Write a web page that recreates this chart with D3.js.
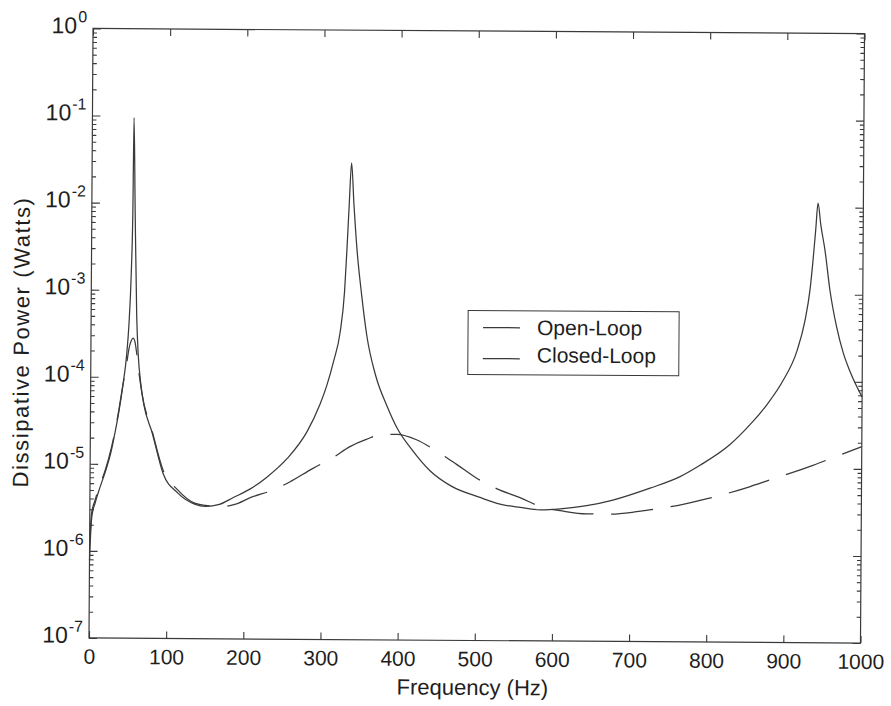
<!DOCTYPE html>
<html>
<head>
<meta charset="utf-8">
<script src="https://cdn.jsdelivr.net/npm/d3@7"></script>
<style>
  body { margin: 0; background: #fff; }
  text { font-family: "Liberation Sans", Arial, sans-serif; fill: #1e1e1e; }
</style>
</head>
<body>
<script>
// open-loop response (Hz, Watts)
const openFreq = [0, 1, 2.7, 6.6, 12.4, 19.3, 27.2, 32, 36.8, 41.6, 46.4, 49.1, 51.7, 53.2, 53.9,
  56.2, 59.1, 61.4, 64.6, 68.8, 80.1, 94.5, 113.7, 135.8, 149.9, 167.9, 185.9, 207.8, 228.8,
  255.7, 280.5, 297.3, 306.1, 314.9, 322.7, 328.3, 331, 333.6, 336.3, 339.7, 344.1, 350.4,
  357.8, 369.1, 384.5, 397.7, 417.9, 440.2, 468.3, 505.5, 531.6, 557.7, 583.7, 609.8, 643.9,
  677.8, 725.9, 764.8, 790.5, 829.2, 855.5, 876.8, 897.4, 915.2, 925.3, 931.5, 935.1, 938.5,
  941.2, 945, 950.7, 957.4, 966.5, 974.8, 984, 1000];
const openPower = [7.8e-7, 1.4e-6, 2.5e-6, 3.5e-6, 5.2e-6, 7.9e-6, 1.4e-5, 2.3e-5, 4.0e-5, 7.8e-5,
  1.8e-4, 4.0e-4, 1.6e-3, 7.9e-3, 9.5e-2,
  7.9e-3, 5.0e-4, 1.8e-4, 8.9e-5, 5.0e-5, 2.3e-5, 7.9e-6, 4.7e-6, 3.5e-6, 3.3e-6, 3.5e-6,
  4.2e-6, 5.3e-6, 7.2e-6,
  1.2e-5, 2.4e-5, 5.0e-5, 8.3e-5, 1.6e-4, 3.3e-4, 1.0e-3, 3.0e-3, 1.0e-2, 3.0e-2, 1.0e-2,
  3.0e-3, 9.2e-4,
  3.0e-4, 1.1e-4, 4.8e-5, 2.7e-5, 1.5e-5, 8.9e-6, 5.9e-6, 4.4e-6, 3.7e-6, 3.4e-6, 3.2e-6,
  3.3e-6, 3.6e-6,
  4.2e-6, 5.8e-6, 7.9e-6, 1.07e-5, 1.86e-5, 3.2e-5, 5.4e-5, 1.02e-4, 2.24e-4, 5.0e-4, 1.12e-3,
  2.4e-3, 5.6e-3,
  1.12e-2, 6.3e-3, 3.2e-3, 1.12e-3, 4.2e-4, 2.2e-4, 1.32e-4, 6.7e-5];

// closed-loop response (Hz, Watts)
const closedFreq = [0, 1, 2.6, 6.6, 12.4, 19.3, 27.1, 32, 36.8, 41.6, 46.4, 49.3, 52.2, 54.7, 57.2,
  59.3, 62.6, 66.8, 80.1, 94.5, 113.7, 135.8, 149.9, 167.9, 187.9, 207.8, 235.8, 258.8, 287.7,
  314.7, 336.6, 357.7, 379.7, 397.6, 422.8, 448, 475, 501.2, 528.4, 557.5, 583.7, 613.8,
  643.8, 673.9, 708.9, 738.9, 768.8, 798.8, 825.8, 854.8, 883.9, 910.8, 936.8, 963.7, 1000];
const closedPower = [1.0e-6, 1.8e-6, 2.8e-6, 3.8e-6, 5.6e-6, 8.3e-6, 1.5e-5, 2.4e-5, 4.2e-5, 7.9e-5,
  1.4e-4, 2.1e-4, 2.6e-4, 2.8e-4, 2.5e-4,
  1.9e-4, 1.1e-4, 6.3e-5, 2.4e-5, 8.6e-6, 5.1e-6, 3.6e-6, 3.4e-6, 3.3e-6, 3.5e-6, 4.2e-6,
  5.1e-6, 6.4e-6, 9.1e-6,
  1.23e-5, 1.65e-5, 2.0e-5, 2.3e-5, 2.3e-5, 2.0e-5, 1.5e-5, 1.05e-5, 7.3e-6, 5.5e-6, 4.4e-6,
  3.5e-6, 3.1e-6,
  2.9e-6, 2.9e-6, 3.1e-6, 3.4e-6, 3.8e-6, 4.4e-6, 5.1e-6, 6.1e-6, 7.5e-6, 9.0e-6, 1.09e-5,
  1.35e-5, 1.8e-5];

const xTicks = [0, 100, 200, 300, 400, 500, 600, 700, 800, 900, 1000];
const yExponents = [0, -1, -2, -3, -4, -5, -6, -7];
const seriesNames = ['Open-Loop', 'Closed-Loop'];

const width = 891, height = 706;
const plotLeft = 91, plotRight = 862.5, plotTop = 31, plotBottom = 640.5;
const ink = '#3a3a3a';

let svg = d3.select('body').append('svg')
  .attr('width', width)
  .attr('height', height);

svg.append('rect').attr('width', width).attr('height', height).attr('fill', '#fff');

// the scanned page sits slightly tilted
let g = svg.append('g')
  .attr('transform', `rotate(0.38, ${(plotLeft + plotRight) / 2}, ${(plotTop + plotBottom) / 2})`);

let x = d3.scaleLinear().domain([0, 1000]).range([plotLeft, plotRight]);
let y = d3.scaleLog().domain([1e-7, 1]).range([plotBottom, plotTop]);

let yMajor = yExponents.map(e => Math.pow(10, e));
let yMinor = y.ticks().filter(v => !yMajor.some(m => Math.abs(v / m - 1) < 1e-6));

function styleAxis(sel) {
  sel.select('.domain').remove();
  sel.attr('font-family', null).attr('font-size', null);
  sel.selectAll('line').attr('stroke', ink).attr('stroke-width', 1.1);
}

// x axes, ticks inside
g.append('g')
  .attr('transform', `translate(0,${plotBottom})`)
  .call(d3.axisBottom(x).tickValues(xTicks).tickSize(-7).tickPadding(11).tickFormat(d => d))
  .call(styleAxis)
  .selectAll('text').style('font-size', '21px');

g.append('g')
  .attr('transform', `translate(0,${plotTop})`)
  .call(d3.axisTop(x).tickValues(xTicks).tickSize(-7).tickFormat(''))
  .call(styleAxis);

// y axes, log ticks inside on both sides
g.append('g').attr('transform', `translate(${plotLeft},0)`)
  .call(d3.axisLeft(y).tickValues(yMinor).tickSize(-4).tickFormat(''))
  .call(styleAxis);
g.append('g').attr('transform', `translate(${plotLeft},0)`)
  .call(d3.axisLeft(y).tickValues(yMajor).tickSize(-8).tickFormat(''))
  .call(styleAxis);
g.append('g').attr('transform', `translate(${plotRight},0)`)
  .call(d3.axisRight(y).tickValues(yMinor).tickSize(-4).tickFormat(''))
  .call(styleAxis);
g.append('g').attr('transform', `translate(${plotRight},0)`)
  .call(d3.axisRight(y).tickValues(yMajor).tickSize(-8).tickFormat(''))
  .call(styleAxis);

// power-of-ten labels
let yLabels = g.append('g').selectAll('text')
  .data(yExponents)
  .join('text')
    .attr('x', plotLeft - 6)
    .attr('y', e => y(Math.pow(10, e)) + 5)
    .attr('text-anchor', 'end');
yLabels.append('tspan').style('font-size', '23px').text('10');
yLabels.append('tspan').style('font-size', '16px').attr('dx', 1).attr('dy', -11).text(e => String(e));

// frame
g.append('rect')
  .attr('x', plotLeft).attr('y', plotTop)
  .attr('width', plotRight - plotLeft).attr('height', plotBottom - plotTop)
  .attr('fill', 'none').attr('stroke', ink).attr('stroke-width', 1.2);

// curves
let line = d3.line().curve(d3.curveMonotoneX);

let openPts = openFreq.map((f, i) => [x(f), y(openPower[i])]);
let closedPts = closedFreq.map((f, i) => [x(f), y(closedPower[i])]);

g.append('path')
  .attr('d', line(openPts))
  .attr('fill', 'none')
  .attr('stroke', ink)
  .attr('stroke-width', 1.25);

let closedPath = g.append('path')
  .attr('d', line(closedPts))
  .attr('fill', 'none')
  .attr('stroke', ink)
  .attr('stroke-width', 1.25);

// path length at which the curve reaches a given frequency
let node = closedPath.node();
function lengthAt(freq) {
  let lo = 0, hi = node.getTotalLength();
  while (hi - lo > 0.25) {
    let mid = (lo + hi) / 2;
    if (node.getPointAtLength(mid).x < x(freq)) lo = mid; else hi = mid;
  }
  return lo;
}

// dashes of about 48/20 px, stretched a touch so one dash covers the
// small cap near 47 Hz and another starts at 178 Hz, as in the plot
let l0 = lengthAt(47), l1 = lengthAt(178);
let period = (l1 - l0) / Math.max(1, Math.round((l1 - l0) / 68));
let dash = period * 0.705;
closedPath
  .attr('stroke-dasharray', `${dash},${period - dash}`)
  .attr('stroke-dashoffset', period - (l0 % period));

// legend
let legend = g.append('g');
legend.append('rect')
  .attr('x', 468).attr('y', 310.5).attr('width', 211).attr('height', 64)
  .attr('fill', '#fff').attr('stroke', ink).attr('stroke-width', 1);
let legendRows = [327.5, 358.5];
seriesNames.forEach((name, i) => {
  legend.append('line')
    .attr('x1', 483).attr('x2', 520)
    .attr('y1', legendRows[i]).attr('y2', legendRows[i])
    .attr('stroke', ink).attr('stroke-width', 1.25);
  legend.append('text')
    .attr('x', 537).attr('y', legendRows[i] + (i === 0 ? 7 : 3.5))
    .style('font-size', '21px')
    .text(name);
});

// axis titles
g.append('text')
  .attr('x', (plotLeft + plotRight) / 2 - 2).attr('y', 695)
  .attr('text-anchor', 'middle')
  .style('font-size', '22px')
  .text('Frequency (Hz)');

g.append('text')
  .attr('transform', `translate(29,${345}) rotate(-90)`)
  .attr('text-anchor', 'middle')
  .style('font-size', '22px')
  .style('letter-spacing', '1.6px')
  .text('Dissipative Power (Watts)');
</script>
</body>
</html>
